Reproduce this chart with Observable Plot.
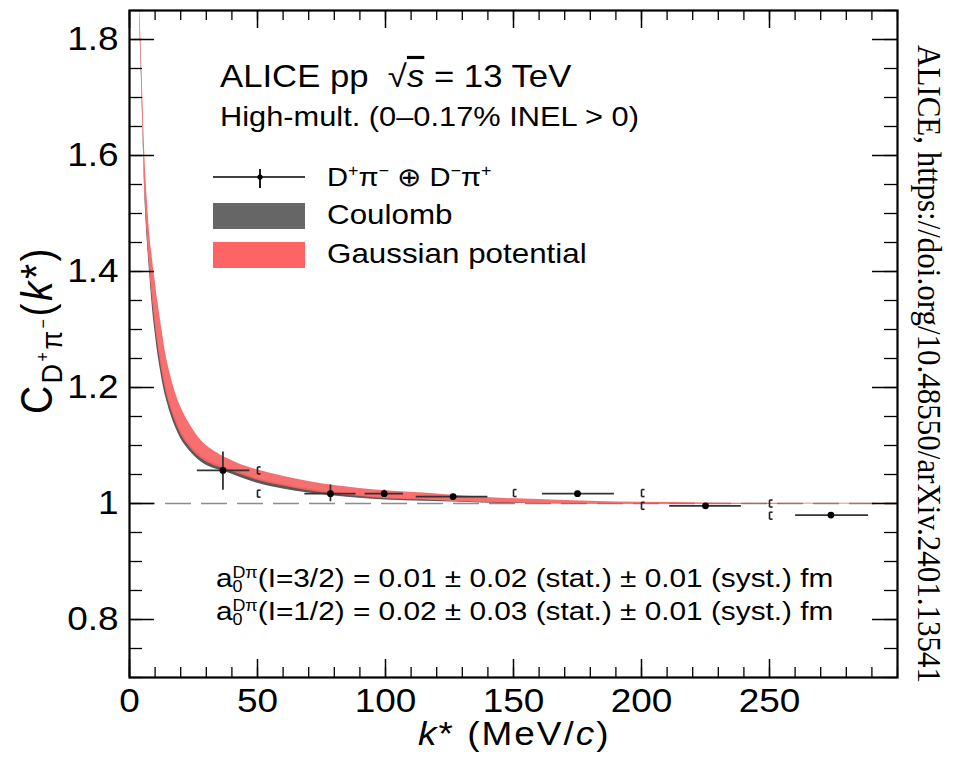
<!DOCTYPE html>
<html><head><meta charset="utf-8">
<script src="https://cdn.jsdelivr.net/npm/d3@7"></script>
<script src="https://cdn.jsdelivr.net/npm/@observablehq/plot@0.6"></script>
<style>
html,body{margin:0;padding:0;background:#fff;}
#chart{position:relative;width:953px;height:758px;overflow:hidden;}
text{white-space:pre;}
</style></head><body><div id="chart"></div>
<script>
// ---- data ----
const bandK     = [4,5,6,7,8,9,10,11,12,13,14,15,16,18,20,23,26,30,34,37,42,50,60,70,80,90,100,115,130,145,160,180,200,225,250,275,300];
const gaussHi   = [1.86,1.73,1.60,1.52,1.46,1.42,1.385,1.35,1.32,1.29,1.262,1.24,1.222,1.19,1.167,1.141,1.12,1.10,1.088,1.080,1.070,1.058,1.047,1.038,1.031,1.026,1.022,1.018,1.013,1.009,1.007,1.004,1.002,1.001,1.0005,1.0005,1.0005];
const gaussLo   = [1.84,1.69,1.54,1.46,1.40,1.35,1.31,1.275,1.245,1.22,1.198,1.18,1.165,1.14,1.12,1.10,1.085,1.072,1.064,1.060,1.052,1.040,1.030,1.022,1.016,1.012,1.008,1.006,1.003,1.001,1.000,0.9995,0.999,0.999,0.9995,0.9995,0.9995];
const coulombHi = [1.85,1.70,1.55,1.47,1.41,1.36,1.32,1.285,1.255,1.23,1.207,1.188,1.172,1.147,1.126,1.105,1.090,1.076,1.068,1.063,1.055,1.043,1.033,1.025,1.019,1.014,1.010,1.007,1.004,1.002,1.001,1.000,0.9995,0.9995,1.000,1.000,1.000];
const coulombLo = [1.83,1.68,1.53,1.45,1.39,1.335,1.295,1.26,1.232,1.207,1.186,1.17,1.155,1.131,1.112,1.093,1.079,1.066,1.059,1.055,1.047,1.035,1.025,1.018,1.013,1.009,1.006,1.004,1.002,1.000,0.9995,0.999,0.9985,0.9985,0.999,0.9995,0.9995];

const ptK   = [36.5, 78.5, 99.5, 126.4, 175, 225, 274];
const ptC   = [1.057, 1.017, 1.017, 1.012, 1.017, 0.996, 0.980];
const ptKlo = [26.5, 68.5, 92, 112, 161.3, 211, 260.2];
const ptKhi = [47, 88.5, 107, 140, 189.4, 239, 288.7];
const ptClo = [1.023, 1.003, 1.011, 1.008, 1.013, 0.992, 0.976];
const ptChi = [1.089, 1.032, 1.023, 1.016, 1.021, 1.000, 0.984];

const sysK = [50, 50, 150, 200, 200, 250, 250];
const sysC = [1.057, 1.017, 1.018, 1.018, 0.996, 1.000, 0.979];

const xTicks = [0, 50, 100, 150, 200, 250];
const xTickLabels = ["0", "50", "100", "150", "200", "250"];
const xMinor = d3.range(0, 301, 10);
const yTicks = [0.8, 1.0, 1.2, 1.4, 1.6, 1.8];
const yTickLabels = ["0.8", "1", "1.2", "1.4", "1.6", "1.8"];
const yMinor = d3.range(0.7, 1.851, 0.05);

// ---- tables ----
const bands = bandK.map((k, i) => ({k, gHi: gaussHi[i], gLo: gaussLo[i], cHi: coulombHi[i], cLo: coulombLo[i]}));
const pts = ptK.map((k, i) => ({k, c: ptC[i], klo: ptKlo[i], khi: ptKhi[i], clo: ptClo[i], chi: ptChi[i]}));
const sys = sysK.map((k, i) => ({k, c: sysC[i]}));

const W = 953, H = 758, mL = 129, mR = 56, mT = 10, mB = 81;
const iw = W - mL - mR, ih = H - mT - mB;
const dy = 0.006;
const FONT = "Liberation Sans, Arial, Helvetica, sans-serif";

const plot = Plot.plot({
  width: W, height: H,
  marginLeft: mL, marginRight: mR, marginTop: mT, marginBottom: mB,
  x: {domain: [0, 300]},
  y: {domain: [0.7, 1.85]},
  style: {fontFamily: FONT, color: "black", background: "white", overflow: "visible"},
  marks: [
    Plot.ruleY([1], {stroke: "#8c8c8c", strokeWidth: 1.7, strokeDasharray: "26,10"}),
    Plot.areaY(bands, {x: "k", y1: "cLo", y2: "cHi", fill: "#595959", curve: "monotone-x", clip: true}),
    Plot.areaY(bands, {x: "k", y1: "gLo", y2: "gHi", fill: "#f76464", fillOpacity: 0.93, curve: "monotone-x", clip: true}),
    // systematic brackets
    Plot.link(sys, {x1: "k", x2: "k", y1: d => d.c - dy, y2: d => d.c + dy, stroke: "#222", strokeWidth: 1.6}),
    Plot.link(sys, {x1: "k", x2: d => d.k + 1.2, y1: d => d.c - dy, y2: d => d.c - dy, stroke: "#222", strokeWidth: 1.6}),
    Plot.link(sys, {x1: "k", x2: d => d.k + 1.2, y1: d => d.c + dy, y2: d => d.c + dy, stroke: "#222", strokeWidth: 1.6}),
    // error bars and points
    Plot.ruleY(pts, {y: "c", x1: "klo", x2: "khi", stroke: "#333", strokeWidth: 1.8}),
    Plot.ruleX(pts, {x: "k", y1: "clo", y2: "chi", stroke: "#333", strokeWidth: 1.8}),
    Plot.dot(pts, {x: "k", y: "c", r: 3.4, fill: "black", stroke: "none"}),
    // inward ticks (ROOT style), all four sides
    Plot.tickX(xTicks, {x: d => d, insetTop: ih - 18, stroke: "black", strokeWidth: 1.5}),
    Plot.tickX(xMinor, {x: d => d, insetTop: ih - 10, stroke: "black", strokeWidth: 1.3}),
    Plot.tickX(xTicks, {x: d => d, insetBottom: ih - 18, stroke: "black", strokeWidth: 1.5}),
    Plot.tickX(xMinor, {x: d => d, insetBottom: ih - 10, stroke: "black", strokeWidth: 1.3}),
    Plot.tickY(yTicks, {y: d => d, insetRight: iw - 25, stroke: "black", strokeWidth: 1.5}),
    Plot.tickY(yMinor, {y: d => d, insetRight: iw - 13, stroke: "black", strokeWidth: 1.3}),
    Plot.tickY(yTicks, {y: d => d, insetLeft: iw - 25, stroke: "black", strokeWidth: 1.5}),
    Plot.tickY(yMinor, {y: d => d, insetLeft: iw - 13, stroke: "black", strokeWidth: 1.3}),
    Plot.axisX({ticks: xTicks, tickFormat: d => xTickLabels[xTicks.indexOf(d)], tickSize: 0, tickPadding: 11, fontSize: 33, label: null}),
    Plot.axisY({ticks: yTicks, tickFormat: d => yTickLabels[yTicks.indexOf(d)], tickSize: 0, tickPadding: 11, fontSize: 33, label: null}),
    Plot.frame({stroke: "black", strokeWidth: 2.2})
  ]
});

document.getElementById("chart").appendChild(plot);
const svg = d3.select(plot);
const S = 1.12; // horizontal glyph stretch seen in the reference

// widen axis tick labels around their own anchor (keep positions intact)
svg.selectAll("text").each(function() {
  const t = d3.select(this);
  const tr = t.attr("transform") || "";
  const xa = t.attr("x");
  if (xa != null && /^-?[\d.]+$/.test(xa) ) t.attr("x", (+xa) / S);
  else if (xa != null && xa !== "" && !/^-?[\d.]+$/.test(xa)) return;
  t.attr("transform", `${tr} scale(${S},1)`);
});

const g = svg.append("g").attr("font-family", FONT).attr("fill", "black");
function txt(x, y, size, anchor, extra) {
  return g.append("text")
    .attr("transform", `translate(${x},${y}) ${extra || `scale(${S},1)`}`)
    .attr("font-size", size).attr("text-anchor", anchor || "start");
}

// header
const t1 = txt(220, 87, 31);
t1.append("tspan").text("ALICE pp  \u221A");
t1.append("tspan").attr("font-style", "italic").attr("text-decoration", "overline").text("s");
t1.append("tspan").text(" = 13 TeV");
txt(220, 126, 27.5).text("High-mult. (0\u20130.17% INEL > 0)");

// legend
g.append("line").attr("x1", 213).attr("x2", 305).attr("y1", 177).attr("y2", 177).attr("stroke", "black").attr("stroke-width", 1.5);
g.append("line").attr("x1", 260).attr("x2", 260).attr("y1", 169).attr("y2", 188).attr("stroke", "black").attr("stroke-width", 1.8);
g.append("circle").attr("cx", 260).attr("cy", 177).attr("r", 2.6).attr("fill", "black");
g.append("rect").attr("x", 213).attr("y", 203).attr("width", 92).attr("height", 26).attr("fill", "#666666");
g.append("rect").attr("x", 213).attr("y", 242).attr("width", 92).attr("height", 26).attr("fill", "#ff6464");
const l1 = txt(327, 186, 26);
const sup = (el, s) => el.append("tspan").attr("font-size", 16).attr("dy", -10).text(s);
const base = (el, s) => el.append("tspan").attr("font-size", 26).attr("dy", 10).text(s);
l1.append("tspan").text("D"); sup(l1, "+"); base(l1, "\u03C0"); sup(l1, "\u2212");
base(l1, " \u2295 D"); sup(l1, "\u2212"); base(l1, "\u03C0"); sup(l1, "+");
txt(327, 224, 28).text("Coulomb");
txt(327, 263, 28).text("Gaussian potential");

// scattering-length annotation
function aline(y, iso, val, stat) {
  const t = txt(216, y, 26.6);
  t.append("tspan").text("a");
  t.append("tspan").attr("font-size", 16).attr("dy", 5).text("0");
  t.append("tspan").attr("font-size", 16).attr("dx", -9).attr("dy", -14).text("D\u03C0");
  t.append("tspan").attr("font-size", 26.6).attr("dy", 9).text(`(I=${iso}) = ${val} \u00B1 ${stat} (stat.) \u00B1 0.01 (syst.) fm`);
}
aline(587, "3/2", "0.01", "0.02");
aline(620, "1/2", "0.02", "0.03");

// axis titles
const xt = txt(418, 745, 33).attr("letter-spacing", 1.8);
xt.append("tspan").attr("font-style", "italic").text("k");
xt.append("tspan").text("* (MeV/");
xt.append("tspan").attr("font-style", "italic").text("c");
xt.append("tspan").text(")");

const yt = txt(52, 330, 39, "middle", `rotate(-90) scale(1,${S})`).attr("letter-spacing", 2.5);
yt.append("tspan").text("C");
yt.append("tspan").attr("font-size", 27).attr("dy", 9).text("D");
yt.append("tspan").attr("font-size", 16).attr("dy", -12).text("+");
yt.append("tspan").attr("font-size", 27).attr("dy", 12).text("\u03C0");
yt.append("tspan").attr("font-size", 16).attr("dy", -12).text("\u2212");
yt.append("tspan").attr("font-size", 39).attr("dy", 3).text("(");
yt.append("tspan").attr("font-style", "italic").text("k");
yt.append("tspan").text("*)");

// source credit, vertical
txt(918, 45, 31, "start", `rotate(90) scale(1,${S})`)
  .attr("font-family", "Liberation Serif, Times New Roman, serif")
  .text("ALICE, https://doi.org/10.48550/arXiv.2401.13541");
</script></body></html>
